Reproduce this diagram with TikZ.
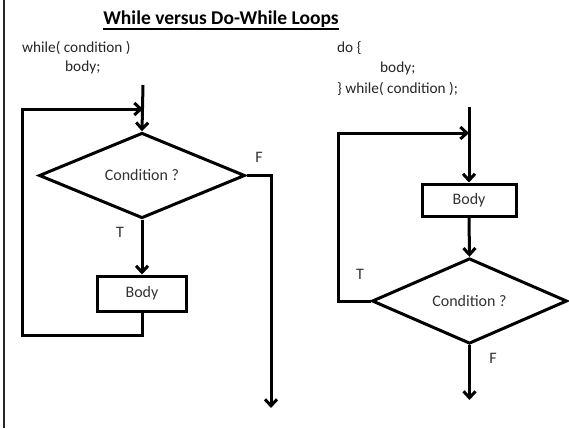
\documentclass[tikz,border=0pt]{standalone}
\usepackage{fontspec}
\setmainfont{Carlito}
\usetikzlibrary{shapes.geometric,arrows.meta}
\begin{document}
\begin{tikzpicture}[x=1pt,y=-1pt,
  flow/.style={line width=3pt, line join=miter, draw=black},
  arr/.style={flow, -{Straight Barb[length=6.5pt,width=12pt]}},
  dec/.style={diamond, draw=black, line width=3pt, inner sep=0pt, font=\fontsize{16}{18}\selectfont, text=black!80},
  boxnode/.style={rectangle, draw=black, line width=3pt, inner sep=0pt, font=\fontsize{16}{18}\selectfont, text=black!80},
  code/.style={anchor=west, inner sep=0pt, font=\fontsize{15.3}{18}\selectfont, text=black!85},
  lab/.style={inner sep=0pt, font=\fontsize{16}{18}\selectfont, text=black!80}]
\useasboundingbox (0,0) rectangle (569,428);
\fill[white] (0,0) rectangle (569,428);
\coordinate (ftop) at (4,0);
\coordinate (fbot) at (4,428);
\draw[line width=1.5pt, black!85] (ftop) -- (fbot);
% title
\node[inner sep=0pt, font=\fontsize{19.5}{22}\selectfont\bfseries] (title) at (221,19) {While versus Do-While Loops};
\coordinate (ulL) at (title.west);
\coordinate (ulR) at (title.east);
\draw[line width=1.4pt] (ulL |- 0,29) -- (ulR |- 0,29);
% code texts
\node[code] (w1) at (22,48) {while( condition )};
\node[code] (w2) at (65,67) {body;};
\node[code] (d1) at (337,48) {do \{};
\node[code] (d2) at (380,68) {body;};
\node[code] (d3) at (337,89) {\} while( condition );};
% left flowchart
\coordinate (Ltop) at (143,85);
\coordinate (Ljoin) at (143,109);
\node[dec, minimum width=206pt, minimum height=67pt] (C1) at (142,175.5) {Condition ?};
\node[boxnode, minimum width=89pt, minimum height=35pt] (B1) at (142,293.5) {Body};
\coordinate (Lbl) at (142,335);
\coordinate (Lll) at (22,335);
\coordinate (Lul) at (22,109);
\coordinate (Fr) at (271,175.5);
\coordinate (Fend) at (271,408);
\draw[arr] (Ltop) -- (C1.north);
\draw[arr] (C1.south) -- (B1.north);
\draw[arr] (B1.south) -- (Lbl) -- (Lll) -- (Lul) -- (Ljoin);
\draw[arr] (C1.east) -- (Fr) -- (Fend);
\node[lab] (F1) at (259,157) {F};
\node[lab] (T1) at (120,232) {T};
% right flowchart
\coordinate (Rtop) at (469,107);
\coordinate (Rjoin) at (469,133);
\node[boxnode, minimum width=94pt, minimum height=32pt] (B2) at (469,200) {Body};
\node[dec, minimum width=195pt, minimum height=66pt] (C2) at (469.5,301) {Condition ?};
\coordinate (Rll) at (338,301);
\coordinate (Rul) at (338,133);
\coordinate (Rend) at (469.5,400);
\draw[arr] (Rtop) -- (B2.north);
\draw[arr] (B2.south) -- (C2.north);
\draw[arr] (C2.west) -- (Rll) -- (Rul) -- (Rjoin);
\draw[arr] (C2.south) -- (Rend);
\node[lab] (T2) at (360,274) {T};
\node[lab] (F2) at (493,358) {F};
\end{tikzpicture}
\end{document}
